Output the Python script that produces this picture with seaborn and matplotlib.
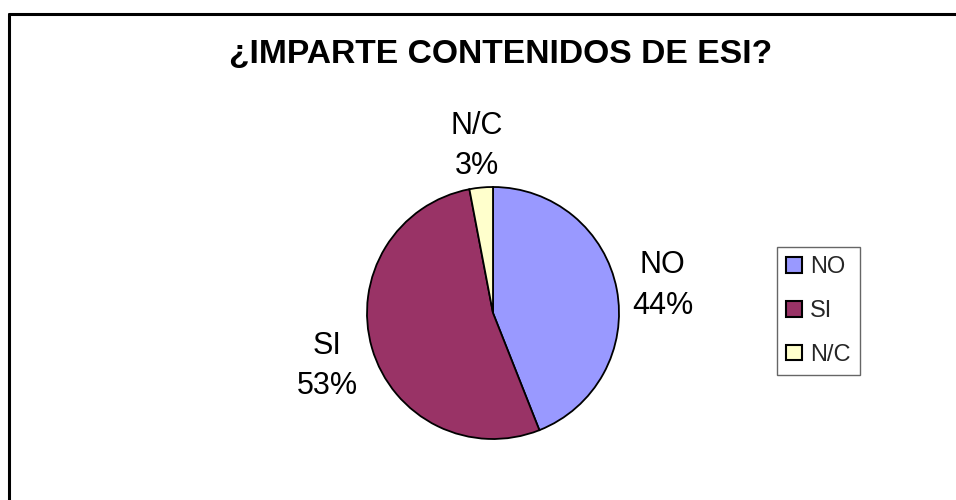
import matplotlib
matplotlib.use('Agg')
import matplotlib.pyplot as plt
import seaborn as sns
from matplotlib.lines import Line2D

# Data
categories = ['NO', 'SI', 'N/C']
percents = [44, 53, 3]
colors = ['#9999FF', '#993366', '#FFFFCC']
title = '¿IMPARTE CONTENIDOS DE ESI?'

sns.set_theme(style='white')
plt.rcParams['font.family'] = ['Liberation Sans', 'DejaVu Sans']

fig = plt.figure(figsize=(9.56, 5.0), dpi=100)

# pie axes: centre (493, 313) px, radius ~126 px
cx, cy, r = 493 / 956, 1 - 313 / 500, 126
ax = fig.add_axes([cx - r / 956, cy - r / 500, 2 * r / 956, 2 * r / 500])

labels = [f'{c}\n{p}%' for c, p in zip(categories, percents)]
wedges, texts = ax.pie(percents, labels=labels, colors=colors, startangle=90,
                       counterclock=False, labeldistance=1.37,
                       wedgeprops=dict(edgecolor='black', linewidth=1.3),
                       textprops=dict(fontsize=22, color='black', linespacing=1.45))
for t in texts:
    t.set_ha('center')
    t.set_va('center')
    x, y = t.get_position()
    t.set_position((x, y - 5 / r))
ax.set_xlim(-1, 1)
ax.set_ylim(-1, 1)
ax.set_aspect('auto')
ax.axis('off')

fig.text(501 / 956, 1 - 54 / 500, title, ha='center', va='center',
         fontsize=24.2, fontweight='bold', color='black')

leg = fig.legend(wedges, categories, loc='upper left',
                 bbox_to_anchor=(777 / 956, 1 - 247 / 500),
                 bbox_transform=fig.transFigure, borderaxespad=0,
                 fontsize=17, frameon=True, fancybox=False,
                 handlelength=0.65, handleheight=0.65, handletextpad=0.35,
                 labelspacing=0.92, borderpad=0.4)
leg.get_frame().set_edgecolor('#404040')
leg.get_frame().set_linewidth(1.0)
for h in leg.legend_handles:
    h.set_edgecolor('black')
    h.set_linewidth(1.5)

# outer chart border (top and left visible in the crop)
fig.add_artist(Line2D([9 / 956, 1], [1 - 14 / 500, 1 - 14 / 500],
                      transform=fig.transFigure, color='black', linewidth=2.2))
fig.add_artist(Line2D([9 / 956, 9 / 956], [0, 1 - 14 / 500],
                      transform=fig.transFigure, color='black', linewidth=2.2))

fig.savefig('out.png', dpi=100, facecolor='white')
